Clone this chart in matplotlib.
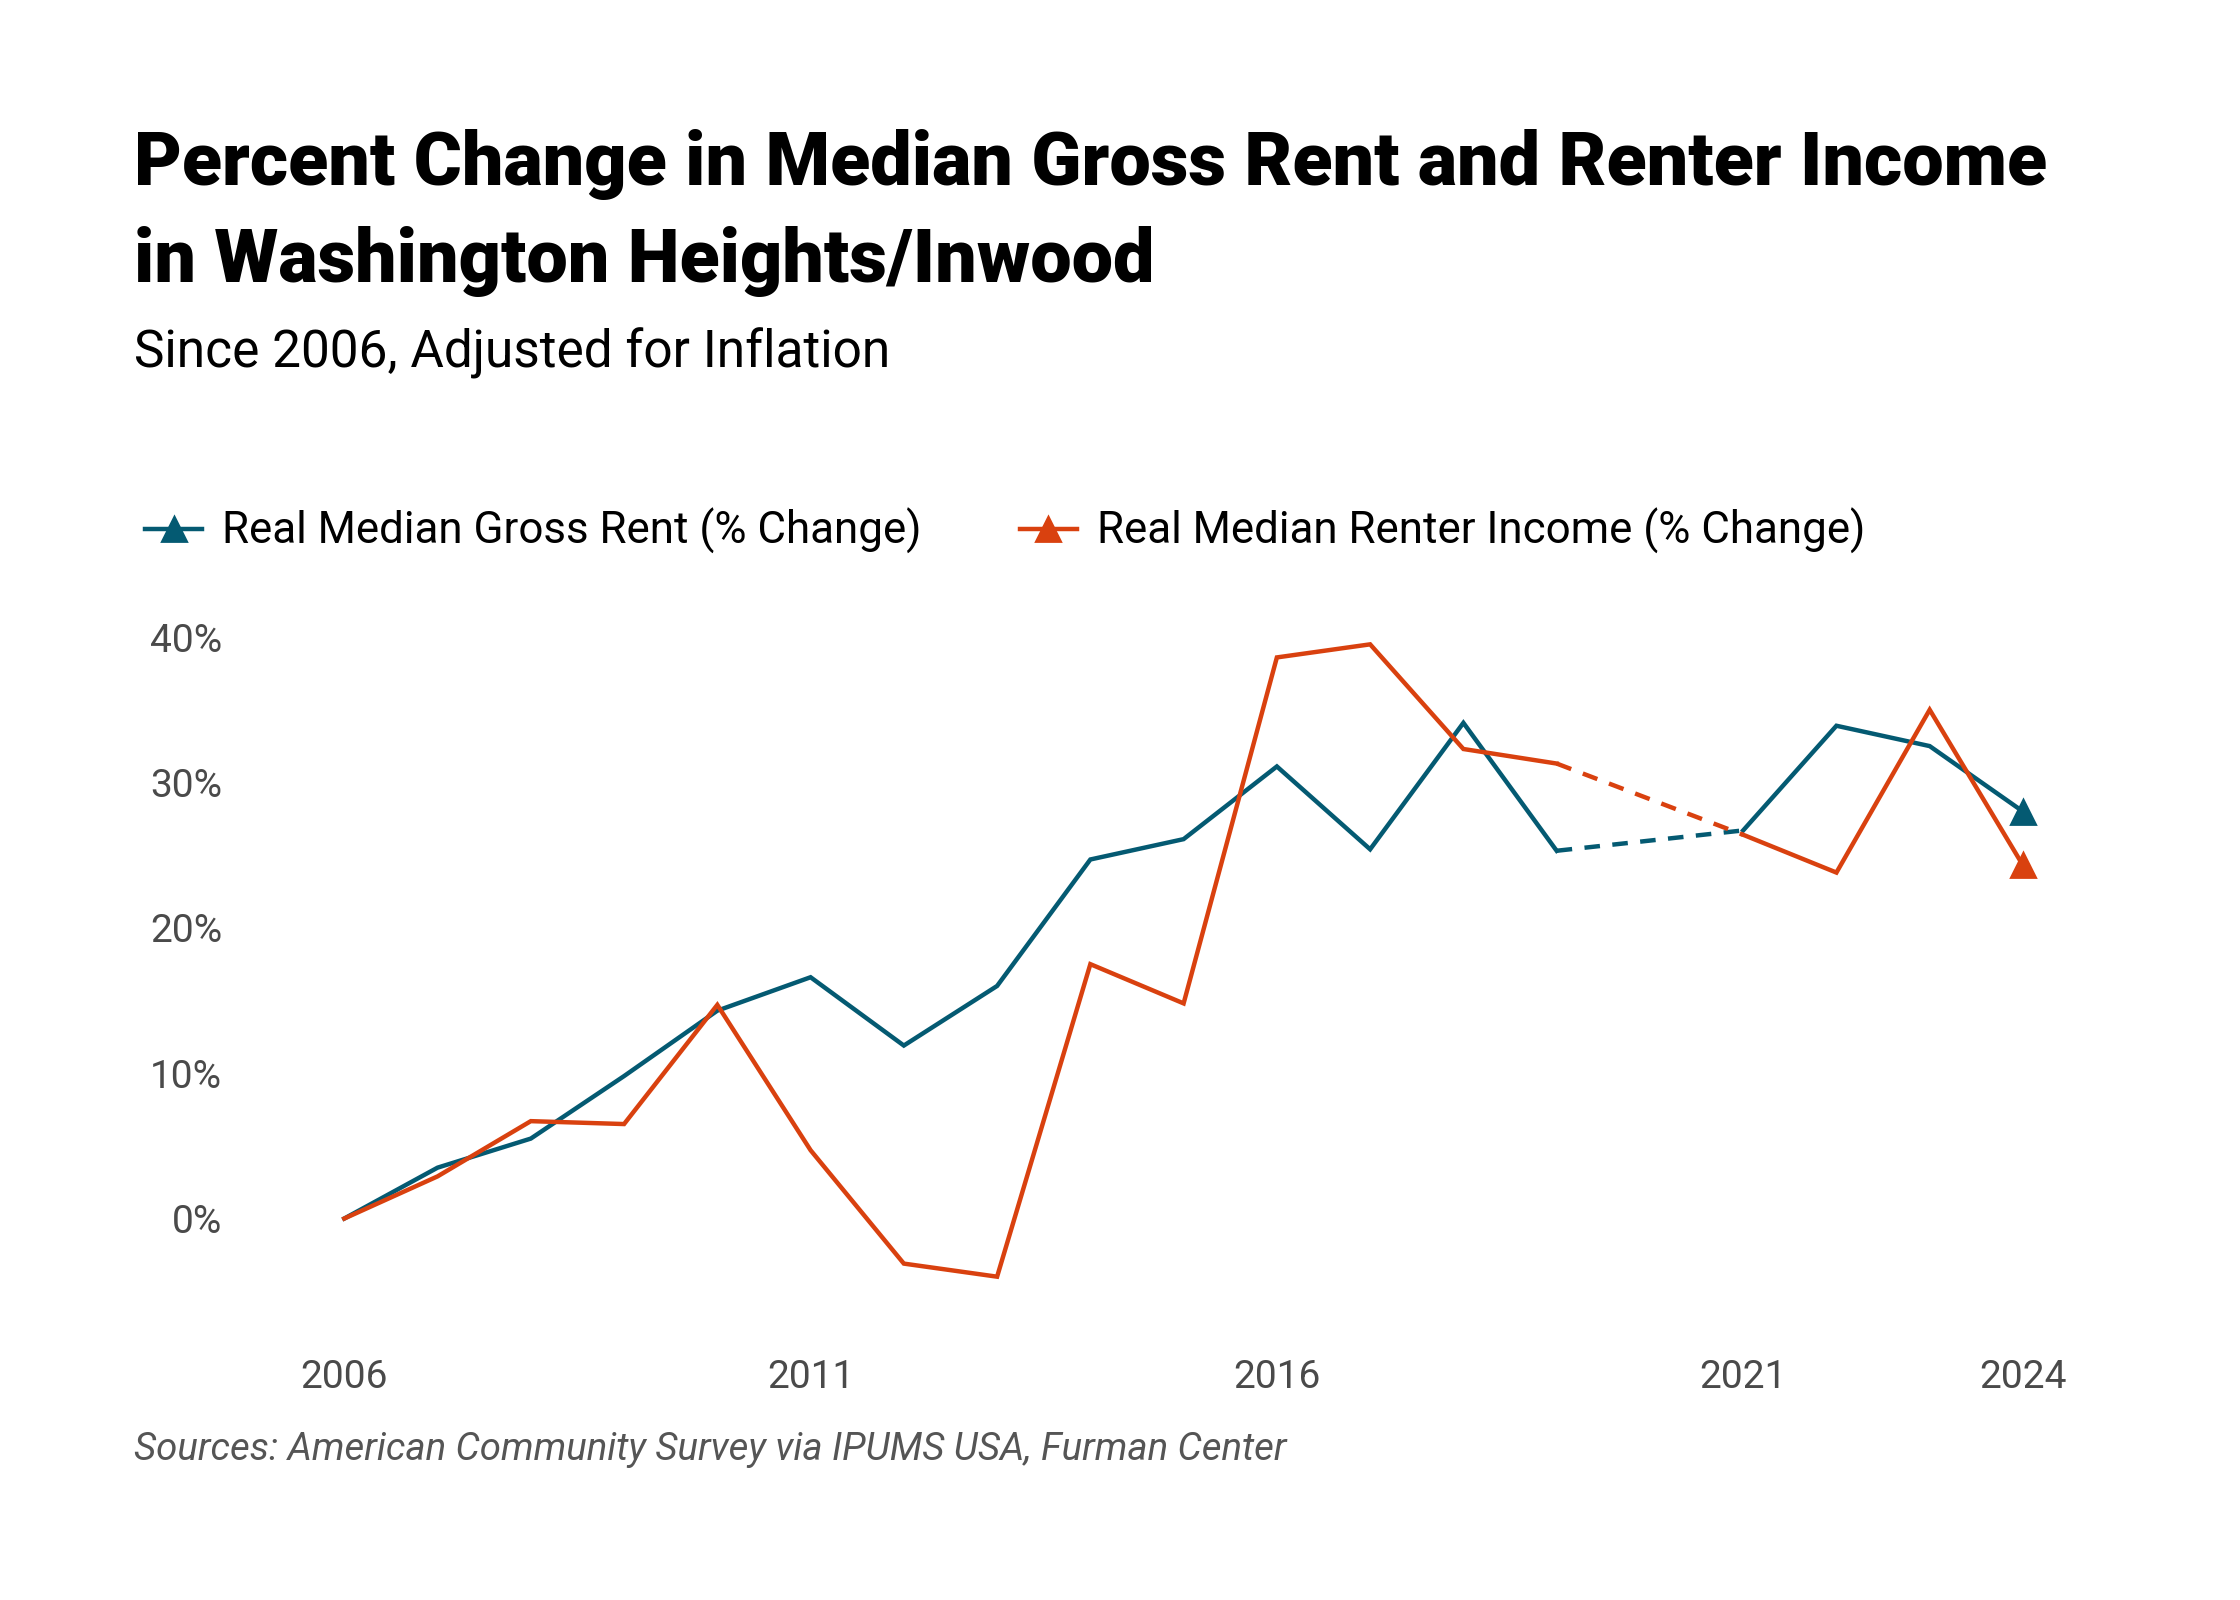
import matplotlib
matplotlib.use('Agg')
import matplotlib.pyplot as plt
from matplotlib.ticker import FuncFormatter
import numpy as np

# data (2020 has no value)
years = np.arange(2006, 2025)
rent_pct = [0.0, 3.5, 5.5, 9.8, 14.3, 16.6, 11.9, 16.0, 24.7, 26.1,
            31.1, 25.4, 34.1, 25.3, np.nan, 26.7, 33.9, 32.5, 28.0]
income_pct = [0.0, 2.9, 6.7, 6.5, 14.7, 4.7, -3.1, -4.0, 17.5, 14.8,
              38.6, 39.5, 32.3, 31.3, np.nan, 26.4, 23.8, 35.0, 24.3]
series_names = ["Real Median Gross Rent (% Change)",
                "Real Median Renter Income (% Change)"]
x_ticks = [2006, 2011, 2016, 2021, 2024]
y_ticks = [0, 10, 20, 30, 40]

BLUE = '#045a72'
RED = '#d9410f'
GREY = '#4a4a4a'

plt.rcParams['font.family'] = ['Roboto', 'DejaVu Sans']

fig = plt.figure(figsize=(11.2, 8), dpi=200)

# axes placed so 2006..2024 and 0..40% land where the reference has them
ax = fig.add_axes([0.1537, 0.1839, 0.7494, 0.4361])
ax.set_xlim(2006, 2024)
ax.set_ylim(-6, 42)

handles = []
for vals, color, name in [(rent_pct, BLUE, series_names[0]),
                          (income_pct, RED, series_names[1])]:
    vals = np.array(vals, dtype=float)
    line, = ax.plot(years, vals, color=color, lw=1.6, marker='^',
                    markevery=[len(years) - 1], markersize=8.5,
                    clip_on=False, label=name, solid_joinstyle='miter')
    handles.append(line)
    # dashed bridge over the missing year
    ok = ~np.isnan(vals)
    yy, vv = years[ok], vals[ok]
    for i in range(len(yy) - 1):
        if yy[i + 1] - yy[i] > 1:
            ax.plot(yy[i:i + 2], vv[i:i + 2], color=color, lw=1.6,
                    ls=(0, (3.5, 2.8)), clip_on=False)

for s in ax.spines.values():
    s.set_visible(False)
ax.set_xticks(x_ticks)
ax.set_yticks(y_ticks)
ax.yaxis.set_major_formatter(FuncFormatter(lambda v, p: f"{v:.0f}%"))
ax.tick_params(axis='both', length=0, labelsize=14, labelcolor=GREY)
ax.tick_params(axis='y', pad=44)
ax.tick_params(axis='x', pad=19)

fig.legend(handles=handles, loc='center left',
           bbox_to_anchor=(0.057, 1 - 372 / 1120), ncol=2, frameon=False,
           fontsize=15.8, handlelength=1.3, handletextpad=0.45,
           columnspacing=2.24, borderaxespad=0)

fig.text(0.06, 1 - 115 / 1120, "Percent Change in Median Gross Rent and Renter Income",
         fontsize=26.5, fontweight='black', va='center', ha='left')
fig.text(0.06, 1 - 183 / 1120, "in Washington Heights/Inwood",
         fontsize=26.5, fontweight='black', va='center', ha='left')
fig.text(0.06, 1 - 247 / 1120, "Since 2006, Adjusted for Inflation",
         fontsize=18.5, va='center', ha='left')
fig.text(0.06, 1 - 1015 / 1120,
         "Sources: American Community Survey via IPUMS USA, Furman Center",
         fontsize=13.8, style='italic', color='#555555', va='center', ha='left')

fig.savefig('out.png', dpi=200)
